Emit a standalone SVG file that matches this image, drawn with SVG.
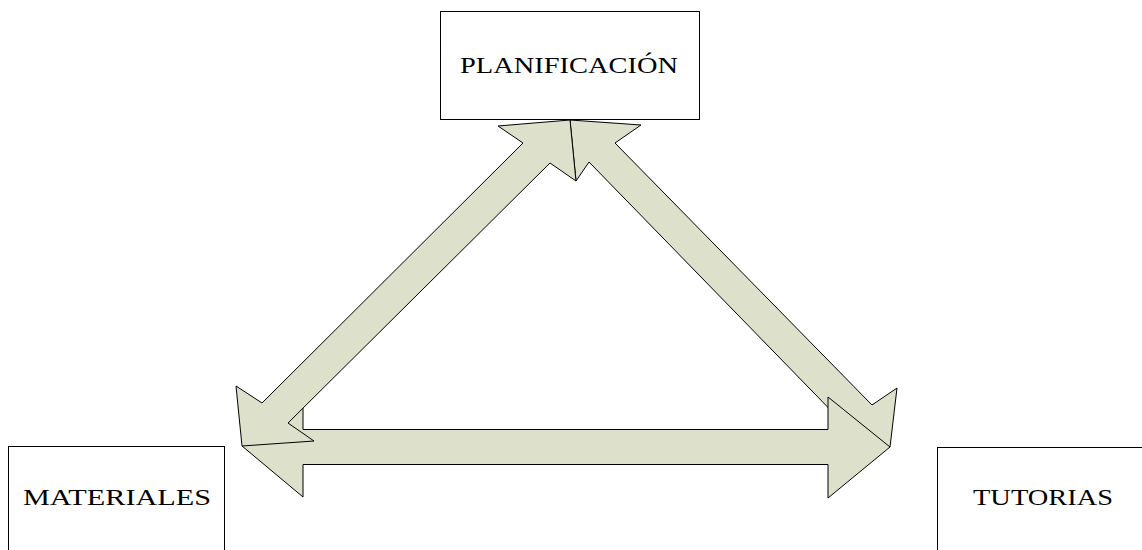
<svg xmlns="http://www.w3.org/2000/svg" width="1142" height="550" viewBox="0 0 1142 550">
<style>
.box{fill:#ffffff;stroke:#000000;stroke-width:1}
.lbl{font-family:"Liberation Serif",serif;font-size:24px;fill:#000000;text-anchor:middle}
.arr{fill:#dde0ca;stroke:#000000;stroke-width:1;stroke-linejoin:miter}
</style>
<rect width="1142" height="550" fill="#ffffff"/>
<g id="node-planificacion">
<rect class="box" x="440.5" y="11.5" width="259" height="108"/>
<text class="lbl" x="569" y="73" textLength="218" lengthAdjust="spacingAndGlyphs">PLANIFICACIÓN</text>
</g>
<g id="node-materiales">
<rect class="box" x="8.5" y="446.5" width="216" height="120"/>
<text class="lbl" x="117" y="505" textLength="188" lengthAdjust="spacingAndGlyphs">MATERIALES</text>
</g>
<g id="node-tutorias">
<rect class="box" x="937.5" y="447.5" width="220" height="120"/>
<text class="lbl" x="1043" y="505" textLength="140" lengthAdjust="spacingAndGlyphs">TUTORIAS</text>
</g>
<g id="connectors">
<polygon id="arrow-plan-tut" class="arr" points="570,120 641,125 615,143 872,405 897,388 890,447 831,453 848,428 589,162 576,181"/>
<polygon id="arrow-mat-tut" class="arr" points="242,446 303,395 303,429.5 828,429.5 828,397 890,447 828,498 828,464.5 303,464.5 303,497"/>
<polygon id="arrow-plan-mat" class="arr" points="570,120 576,181 550,163 288,423 314,441 242,446 236,386 262,403 523,143 498,126"/>
</g>
</svg>
